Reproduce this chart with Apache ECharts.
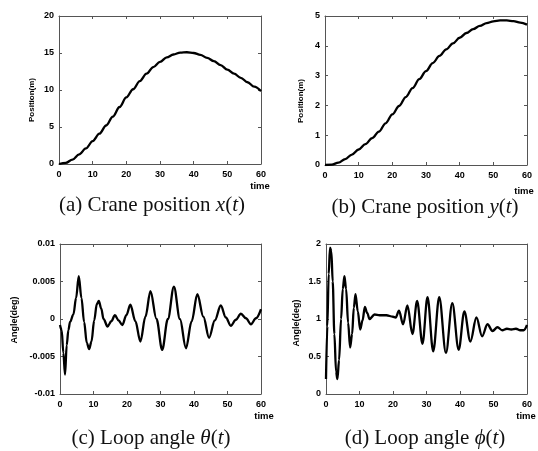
<!DOCTYPE html>
<html>
<head>
<meta charset="utf-8">
<script src="https://cdn.jsdelivr.net/npm/echarts@6/dist/echarts.min.js"></script>
<style>html,body{margin:0;padding:0;background:#fff}#c{width:538px;height:451px}</style>
</head>
<body>
<div id="c"></div>
<script>
// ---- data ----
const tA = [0,2,4,6,8,10,12,14,16,18,20,22,24,26,28,30,32,34,36,38,40,42,44,46,48,50,52,54,56,58,60];
const xPos = [0,0.15,0.6,1.3,2.1,3.1,4.1,5.2,6.4,7.7,9.0,10.1,11.2,12.2,13.1,13.8,14.4,14.8,15.05,15.1,15.0,14.75,14.35,13.9,13.35,12.75,12.2,11.65,11.05,10.45,9.85];

const tB = [0,2,4,6,8,10,12,14,16,18,20,22,24,26,28,30,32,34,36,38,40,42,44,46,48,50,52,54,56,58,60];
const yPos = [0,0.01,0.08,0.2,0.35,0.52,0.7,0.9,1.12,1.4,1.7,1.98,2.28,2.58,2.88,3.15,3.42,3.66,3.88,4.08,4.27,4.43,4.56,4.67,4.76,4.82,4.85,4.85,4.83,4.78,4.71];

const tC = [0,0.5,1,1.5,2,2.5,3,4,4.8,5.6,6.4,7.2,8,8.7,9.4,10.2,11,11.6,12.3,13,14.2,15.3,16.4,17.5,18.6,19.8,21,22.5,24,25.5,27,28.8,30.5,32.2,34,35.8,37.6,39.3,41,42.8,44.5,46.2,48,49.5,51,52.5,54,55.5,57,58.5,60];
const theta = [-0.0008,-0.0015,-0.0045,-0.0074,-0.0035,-0.0015,-0.0004,0.0006,0.0028,0.0057,0.0028,-0.0004,-0.0032,-0.0040,-0.0030,-0.0002,0.0020,0.0024,0.0014,0.0000,-0.0010,-0.0003,0.0005,-0.0002,-0.0008,0.0005,0.0019,-0.0003,-0.0030,0.0003,0.0037,0.0000,-0.0041,0.0000,0.0043,0.0000,-0.0039,-0.0003,0.0033,0.0003,-0.0025,-0.0002,0.0018,0.0002,-0.0009,-0.0001,0.0007,0.0001,-0.0007,0.0001,0.0013];

const tD = [0,0.4,0.8,1.2,1.6,2.0,2.5,3.0,3.4,3.9,4.5,5.0,5.5,6.0,6.6,7.2,7.8,8.3,8.8,9.5,10.2,10.9,11.6,12.3,13.0,14.5,16,18,20,20.8,21.8,23,24.3,25.8,27.2,28.8,30.3,32.0,33.8,35.8,37.7,39.6,41.3,43.1,44.9,46.6,48.2,49.7,51.2,52.6,54,55.3,56.7,58,59,60];
const phi = [0.2,0.9,1.6,1.95,1.9,1.5,0.8,0.3,0.2,0.45,1.0,1.4,1.57,1.4,0.95,0.62,0.8,1.15,1.33,1.1,0.86,0.98,1.16,1.08,1.0,1.06,1.05,1.05,1.03,1.02,1.11,0.93,1.18,0.8,1.24,0.67,1.29,0.57,1.29,0.55,1.21,0.59,1.1,0.7,1.02,0.77,0.93,0.84,0.89,0.85,0.87,0.86,0.87,0.85,0.85,0.92];

const yNames = ['Position(m)','Position(m)','Angle(deg)','Angle(deg)'];
const xName = 'time';
const captions = [
  ['(a) Crane position ','x','(','t',')'],
  ['(b) Crane position ','y','(','t',')'],
  ['(c) Loop angle ','\u03b8','(','t',')'],
  ['(d) Loop angle ','\u03d5','(','t',')']
];

// ---- layout ----
const panels = [
  {t:tA, v:xPos, ymin:0, ymax:20, yint:5, grid:{left:59, top:16, width:202, height:148},
   yName:{x:32, y:100, size:8}, time:{x:260, y:186}, cap:{x:152, y:205}},
  {t:tB, v:yPos, ymin:0, ymax:5, yint:1, grid:{left:325, top:16, width:202, height:149},
   yName:{x:301, y:101, size:8}, time:{x:524, y:191}, cap:{x:425, y:207}},
  {t:tC, v:theta, ymin:-0.01, ymax:0.01, yint:0.005, grid:{left:60, top:244, width:201, height:150},
   yName:{x:15, y:320, size:9}, time:{x:264, y:416}, cap:{x:151, y:438}},
  {t:tD, v:phi, ymin:0, ymax:2, yint:0.5, grid:{left:326, top:244, width:201, height:150},
   yName:{x:297, y:323, size:9}, time:{x:526, y:416}, cap:{x:425, y:438}}
];

const lineCol = '#555';
const labFont = {fontFamily:'Liberation Sans, Arial, sans-serif', fontWeight:'bold', fontSize:9, color:'#000'};
const grids = [], xAxes = [], yAxes = [], series = [], graphics = [];

panels.forEach((p, i) => {
  grids.push(Object.assign({containLabel:false}, p.grid));
  const tick = {show:true, inside:true, length:3, lineStyle:{color:lineCol, width:1}};
  const line = {show:true, onZero:false, lineStyle:{color:lineCol, width:1}};
  xAxes.push({type:'value', gridIndex:i, position:'bottom', min:0, max:60, interval:10,
    axisLine:line, axisTick:tick, splitLine:{show:false},
    axisLabel:Object.assign({margin:6}, labFont)});
  xAxes.push({type:'value', gridIndex:i, position:'top', min:0, max:60, interval:10,
    axisLine:line, axisTick:tick, splitLine:{show:false}, axisLabel:{show:false}});
  yAxes.push({type:'value', gridIndex:i, position:'left', min:p.ymin, max:p.ymax, interval:p.yint,
    axisLine:line, axisTick:tick, splitLine:{show:false},
    axisLabel:Object.assign({margin:5, formatter: v => String(+v.toFixed(4))}, labFont)});
  yAxes.push({type:'value', gridIndex:i, position:'right', min:p.ymin, max:p.ymax, interval:p.yint,
    axisLine:line, axisTick:tick, splitLine:{show:false}, axisLabel:{show:false}});
  series.push({type:'line', xAxisIndex:2*i, yAxisIndex:2*i, showSymbol:false, smooth:0.35,
    smoothMonotone:'x', data:p.t.map((t,k)=>[t,p.v[k]]),
    lineStyle:{color:'#000', width:2.3}, animation:false});

  graphics.push({type:'text', x:p.yName.x, y:p.yName.y, rotation:Math.PI/2,
    style:{text:yNames[i], fontFamily:'Liberation Sans, Arial, sans-serif', fontWeight:'bold',
      fontSize:p.yName.size, fill:'#000', textAlign:'center', textVerticalAlign:'middle'}});
  graphics.push({type:'text', x:p.time.x, y:p.time.y,
    style:{text:xName, fontFamily:'Liberation Sans, Arial, sans-serif', fontWeight:'bold',
      fontSize:9.5, fill:'#000', textAlign:'center', textVerticalAlign:'middle'}});
  const c = captions[i];
  graphics.push({type:'text', x:p.cap.x, y:p.cap.y,
    style:{text:'{n|'+c[0]+'}{i|'+c[1]+'}{n|'+c[2]+'}{i|'+c[3]+'}{n|'+c[4]+'}',
      textAlign:'center', textVerticalAlign:'middle',
      rich:{
        n:{fontFamily:'Liberation Serif, Times New Roman, serif', fontSize:21, fill:'#111'},
        i:{fontFamily:'Liberation Serif, Times New Roman, serif', fontSize:21, fontStyle:'italic', fill:'#111'}
      }}});
});

const chart = echarts.init(document.getElementById('c'), null, {renderer:'canvas'});
chart.setOption({
  animation:false,
  backgroundColor:'#fff',
  grid:grids, xAxis:xAxes, yAxis:yAxes, series:series, graphic:graphics
});
</script>
</body>
</html>
